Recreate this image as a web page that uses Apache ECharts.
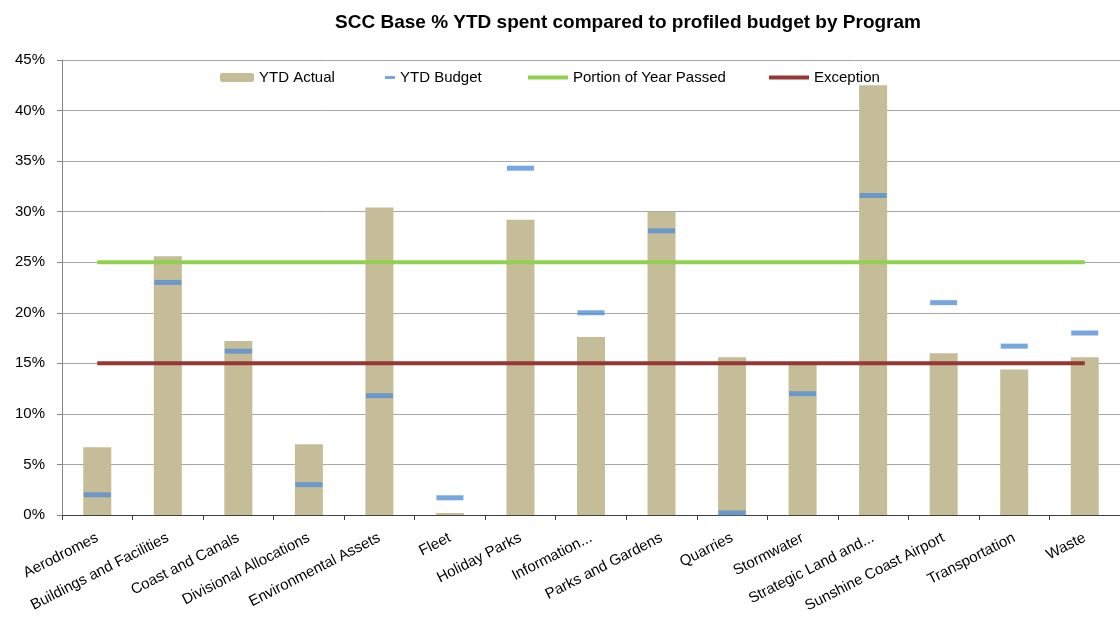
<!DOCTYPE html>
<html>
<head>
<meta charset="utf-8">
<script src="https://cdn.jsdelivr.net/npm/echarts@6/dist/echarts.min.js"></script>
<style>
  html, body { margin: 0; padding: 0; background: #fff; }
  #chart { width: 1120px; height: 619px; }
</style>
</head>
<body>
<div id="chart"></div>
<script>
// Chart data
const categories = ['Aerodromes', 'Buildings and Facilities', 'Coast and Canals', 'Divisional Allocations',
    'Environmental Assets', 'Fleet', 'Holiday Parks', 'Information...', 'Parks and Gardens', 'Quarries',
    'Stormwater', 'Strategic Land and...', 'Sunshine Coast Airport', 'Transportation', 'Waste'];
const ytdActual = [6.7, 25.6, 17.2, 7.0, 30.4, 0.2, 29.2, 17.6, 30.0, 15.6, 15.0, 42.5, 16.0, 14.4, 15.6];
const ytdBudget = [2.0, 23.0, 16.2, 3.0, 11.8, 1.7, 34.3, 20.0, 28.1, 0.2, 12.0, 31.6, 21.0, 16.7, 18.0];
const yearPassed = categories.map(() => 25);
const exception = categories.map(() => 15);
const yTicks = [0, 5, 10, 15, 20, 25, 30, 35, 40, 45];

const COLORS = {
    actual: '#C4BD97',
    budget: '#558ED5',
    passed: '#92D050',
    exception: '#953735'
};

const FONT = 'Liberation Sans';

const chart = echarts.init(document.getElementById('chart'), null, { renderer: 'canvas' });

const legendBase = {
    top: 65,
    textStyle: { fontFamily: FONT, fontSize: 15, color: '#000' },
    itemGap: 4,
    selectedMode: false
};

const option = {
    animation: false,
    title: {
        text: 'SCC Base % YTD spent compared to profiled budget by Program',
        left: 623,
        textAlign: 'center',
        top: 8,
        textStyle: { fontFamily: FONT, fontSize: 19, fontWeight: 'bold', color: '#000' }
    },
    legend: [
        Object.assign({}, legendBase, { left: 215, data: ['YTD Actual'], itemWidth: 34, itemHeight: 9 }),
        Object.assign({}, legendBase, { left: 380, data: ['YTD Budget'], itemWidth: 10, itemHeight: 3, itemGap: 16 }),
        Object.assign({}, legendBase, { left: 523, data: [{ name: 'Portion of Year Passed', icon: 'rect' }], itemWidth: 40, itemHeight: 4 }),
        Object.assign({}, legendBase, { left: 764, data: [{ name: 'Exception', icon: 'rect' }], itemWidth: 40, itemHeight: 4, itemGap: 2 })
    ],
    grid: { left: 62, right: -9, top: 60, bottom: 104, containLabel: false },
    xAxis: {
        type: 'category',
        data: categories,
        axisLine: { lineStyle: { color: '#404040', width: 1 } },
        axisTick: { show: true, alignWithLabel: false, length: 5, lineStyle: { color: '#404040' } },
        axisLabel: {
            interval: 0,
            rotate: 27,
            margin: 22,
            fontFamily: FONT,
            fontSize: 15,
            color: '#000'
        }
    },
    yAxis: {
        type: 'value',
        min: 0,
        max: 45,
        interval: 5,
        axisLine: { show: true, lineStyle: { color: '#868686' } },
        axisTick: { show: true, length: 5, lineStyle: { color: '#868686' } },
        splitLine: { lineStyle: { color: '#A6A6A6', width: 1 } },
        axisLabel: {
            margin: 17,
            fontFamily: FONT,
            fontSize: 15,
            color: '#000',
            formatter: v => yTicks.indexOf(v) >= 0 ? v + '%' : ''
        }
    },
    series: [
        {
            name: 'YTD Actual',
            type: 'bar',
            data: ytdActual,
            barWidth: 28,
            itemStyle: { color: COLORS.actual },
            z: 2
        },
        {
            name: 'Portion of Year Passed',
            type: 'line',
            data: yearPassed,
            symbol: 'none',
            lineStyle: { color: COLORS.passed, width: 4 },
            itemStyle: { color: COLORS.passed },
            z: 3
        },
        {
            name: 'Exception',
            type: 'line',
            data: exception,
            symbol: 'none',
            lineStyle: { color: COLORS.exception, width: 4 },
            itemStyle: { color: COLORS.exception },
            z: 3
        },
        {
            name: 'YTD Budget',
            type: 'scatter',
            data: ytdBudget,
            symbol: 'rect',
            symbolSize: [27, 5],
            itemStyle: { color: COLORS.budget },
            z: 4
        }
    ]
};

chart.setOption(option);
window.addEventListener('resize', chart.resize);
</script>
</body>
</html>
